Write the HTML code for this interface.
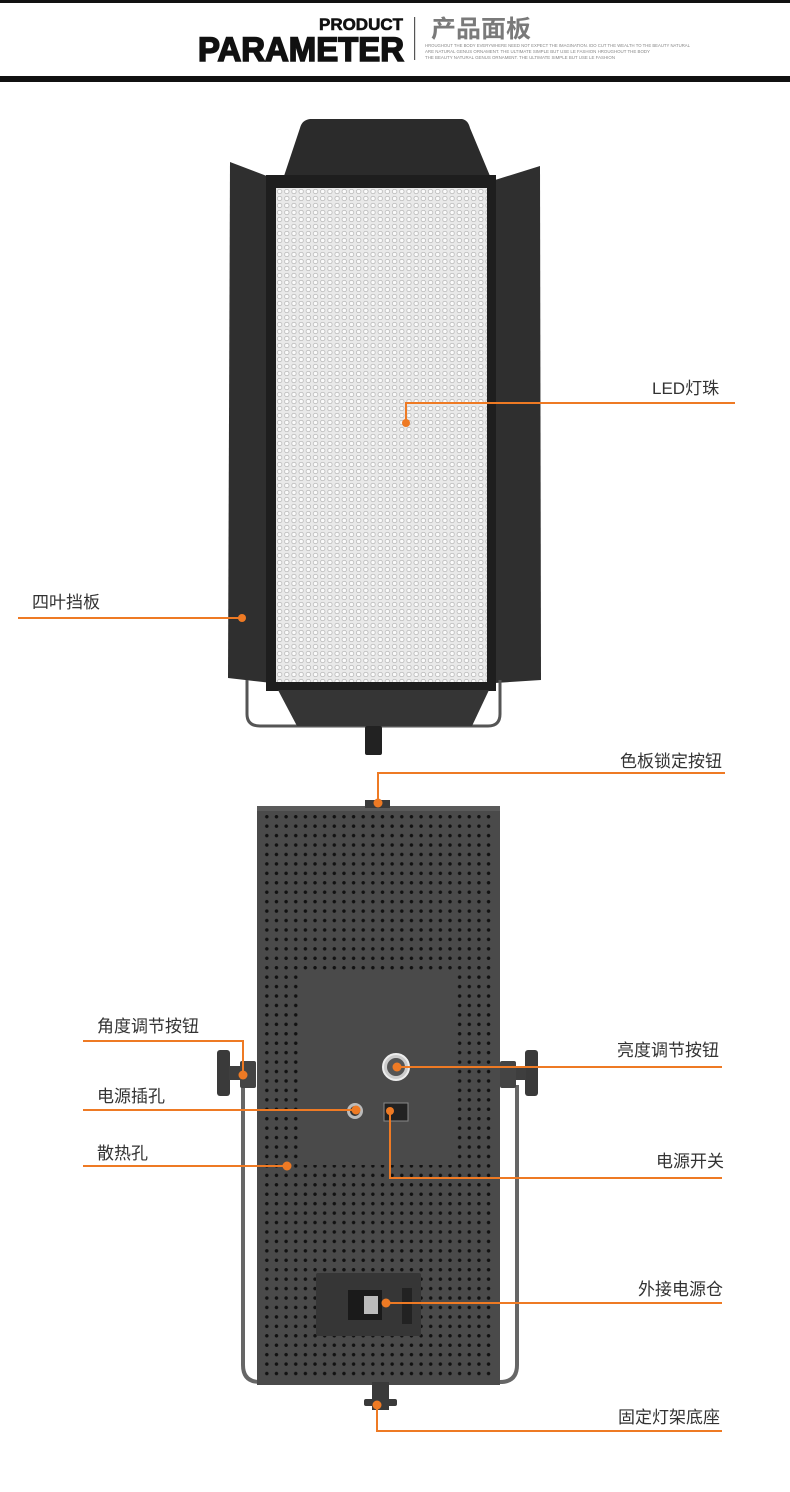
<!DOCTYPE html>
<html><head><meta charset="utf-8"><style>
html,body{margin:0;padding:0;background:#fff;}
.wrap{position:relative;width:790px;height:1492px;overflow:hidden;}
svg{display:block;position:absolute;left:0;top:0;}
.lb{font-family:"Liberation Sans","Noto Sans CJK SC",sans-serif;font-size:17px;fill:#333;}
.holes{position:absolute;left:262px;top:812px;width:234px;height:568px;
background-image:radial-gradient(circle at 50% 50%,#111 1.5px,rgba(0,0,0,0) 2px);
background-size:9.65px 9.45px;}
.led{position:absolute;left:276px;top:188px;width:211px;height:494px;background-color:#e9e9e9;
background-image:radial-gradient(circle at 50% 50%,#fbfbfb 1.6px,#a8a8a8 2.2px,rgba(0,0,0,0) 2.8px);
background-size:7.2px 7px;}
</style></head><body><div class="wrap">
<svg width="790" height="1492" viewBox="0 0 790 1492" xmlns="http://www.w3.org/2000/svg">
<rect width="790" height="1492" fill="#fff"/>
<rect x="0" y="0" width="790" height="3" fill="#111"/>
<rect x="0" y="76" width="790" height="6" fill="#111"/>
<text x="403" y="30" text-anchor="end" font-family="Liberation Sans,sans-serif" font-weight="bold" font-size="17" fill="#111" stroke="#111" stroke-width="0.6" textLength="84" lengthAdjust="spacingAndGlyphs">PRODUCT</text>
<text x="198" y="61" font-family="Liberation Sans,sans-serif" font-weight="bold" font-size="34" fill="#111" stroke="#111" stroke-width="1.6" textLength="206" lengthAdjust="spacingAndGlyphs">PARAMETER</text>
<rect x="414" y="17" width="1.2" height="43" fill="#555"/>
<text x="431" y="37" font-family="Liberation Sans,'Noto Sans CJK SC',sans-serif" font-weight="bold" font-size="24" fill="#7a7a7a" textLength="100" lengthAdjust="spacingAndGlyphs">产品面板</text>
<g font-family="Liberation Sans,sans-serif" font-size="4.5" fill="#888">
<text x="425" y="47" textLength="265" lengthAdjust="spacingAndGlyphs">HROUGHOUT THE BODY EVERYWHERE NEED NOT EXPECT THE IMAGINATION. IDO CUT THE WEALTH TO THE BEAUTY NATURAL</text>
<text x="425" y="53" textLength="225" lengthAdjust="spacingAndGlyphs">ARE NATURAL GENUS ORNAMENT. THE ULTIMATE SIMPLE BUT USE LE FASHION HROUGHOUT THE BODY</text>
<text x="425" y="59" textLength="190" lengthAdjust="spacingAndGlyphs">THE BEAUTY NATURAL GENUS ORNAMENT. THE ULTIMATE SIMPLE BUT USE LE FASHION</text>
</g>
<!-- FRONT -->
<path d="M310 119 L462 119 Q468 120 470 128 L490 176 L284 176 L300 128 Q302 120 310 119Z" fill="#2b2b2b"/>
<path d="M230 162 L272 178 L272 683 L228 678 Z" fill="#2f2f2f"/>
<path d="M540 166 L495 180 L495 683 L541 680 Z" fill="#2f2f2f"/>
<path d="M247 680 L247 714 Q247 726 260 726 L488 726 Q500 726 500 714 L500 680" fill="none" stroke="#555" stroke-width="3"/>
<rect x="266" y="175" width="230" height="516" fill="#1e1e1e"/>
<path d="M278 690 L489 690 L472 726 L297 726 Z" fill="#353535"/>
<rect x="365" y="726" width="17" height="29" rx="2" fill="#222"/>
<!-- BACK base -->
<path d="M243 1085 L243 1365 Q243 1382 260 1382 L500 1382 Q517 1382 517 1365 L517 1085" fill="none" stroke="#666" stroke-width="4"/>
<rect x="257" y="806" width="243" height="579" fill="#4a4a4a"/>
<rect x="257" y="806" width="243" height="5" fill="#5a5a5a"/>
<rect x="365" y="800" width="25" height="8" fill="#3a3a3a"/>
</svg>
<div class="led"></div>
<div class="holes"></div>
<svg width="790" height="1492" viewBox="0 0 790 1492" xmlns="http://www.w3.org/2000/svg">
<rect x="300" y="973" width="157" height="192" fill="#4a4a4a"/>
<rect x="217" y="1050" width="13" height="46" rx="3" fill="#3a3a3a"/>
<rect x="229" y="1066" width="14" height="14" fill="#3e3e3e"/>
<rect x="240" y="1061" width="16" height="27" rx="2" fill="#444"/>
<rect x="525" y="1050" width="13" height="46" rx="3" fill="#3a3a3a"/>
<rect x="512" y="1066" width="14" height="14" fill="#3e3e3e"/>
<rect x="500" y="1061" width="16" height="27" rx="2" fill="#444"/>
<circle cx="396" cy="1067" r="13" fill="#ccc" stroke="#eee" stroke-width="2"/>
<circle cx="396" cy="1067" r="9" fill="#555"/>
<circle cx="355" cy="1111" r="8" fill="#bbb"/>
<circle cx="355" cy="1111" r="5" fill="#333"/>
<rect x="384" y="1103" width="24" height="18" fill="#222" stroke="#888" stroke-width="1"/>
<rect x="316" y="1273" width="105" height="63" rx="2" fill="#363636"/>
<rect x="348" y="1290" width="34" height="30" fill="#1a1a1a"/>
<rect x="364" y="1296" width="14" height="18" fill="#bbb"/>
<rect x="402" y="1288" width="10" height="36" fill="#222"/>
<rect x="372" y="1382" width="17" height="28" fill="#3a3a3a"/>
<rect x="364" y="1399" width="33" height="7" rx="2" fill="#3a3a3a"/>
<g stroke="#ee7a24" stroke-width="2" fill="none">
<path d="M406 423 L406 403 L735 403"/>
<path d="M18 618 L242 618"/>
<path d="M378 803 L378 773 L725 773"/>
<path d="M83 1041 L243 1041 L243 1075"/>
<path d="M397 1067 L722 1067"/>
<path d="M83 1110 L356 1110"/>
<path d="M83 1166 L287 1166"/>
<path d="M390 1111 L390 1178 L722 1178"/>
<path d="M386 1303 L722 1303"/>
<path d="M377 1405 L377 1431 L722 1431"/>
</g>
<g fill="#ee7a24">
<circle cx="406" cy="423" r="4"/>
<circle cx="242" cy="618" r="4"/>
<circle cx="378" cy="803" r="4.5"/>
<circle cx="243" cy="1075" r="4.5"/>
<circle cx="397" cy="1067" r="4.5"/>
<circle cx="356" cy="1110" r="4.5"/>
<circle cx="287" cy="1166" r="4.5"/>
<circle cx="390" cy="1111" r="4"/>
<circle cx="386" cy="1303" r="4.5"/>
<circle cx="377" cy="1405" r="4.5"/>
</g>
<g class="lb">
<text x="652" y="394">LED灯珠</text>
<text x="32" y="608">四叶挡板</text>
<text x="620" y="767">色板锁定按钮</text>
<text x="97" y="1032">角度调节按钮</text>
<text x="617" y="1056">亮度调节按钮</text>
<text x="97" y="1102">电源插孔</text>
<text x="97" y="1159">散热孔</text>
<text x="656" y="1167">电源开关</text>
<text x="638" y="1295">外接电源仓</text>
<text x="618" y="1423">固定灯架底座</text>
</g>
</svg>
</div></body></html>
